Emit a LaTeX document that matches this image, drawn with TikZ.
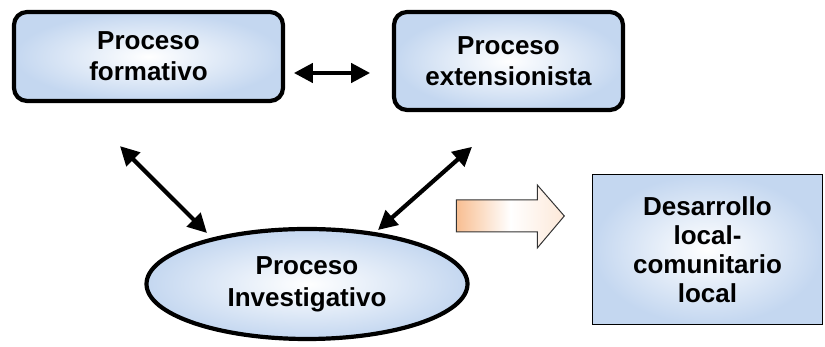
\documentclass[tikz,border=0pt]{standalone}
\usepackage{fontspec}
\setmainfont{Liberation Sans}
\usetikzlibrary{calc,shapes.geometric,arrows.meta}
\definecolor{boxblue}{RGB}{196,215,240}
\definecolor{peach}{RGB}{248,190,145}

\begin{document}
\begin{tikzpicture}[x=1pt, y=1pt,
      block/.style={rectangle, rounded corners=13pt, draw, line width=4.2pt, shading=radial, inner color=white, outer color=boxblue, align=center, font=\fontsize{26}{31}\selectfont\bfseries},
      oval/.style={ellipse, draw, line width=4.2pt, shading=radial, inner color=white, outer color=boxblue, align=center, font=\fontsize{26}{32}\selectfont\bfseries},
      goal/.style={rectangle, draw, line width=1.4pt, shading=radial, inner color=white, outer color=boxblue, align=center, font=\fontsize{26}{29}\selectfont\bfseries},
      dbl/.style={{Triangle[length=19pt,width=19pt]}-{Triangle[length=19pt,width=19pt]}, line width=4.2pt},
      flowarrow/.style={draw=black!80, line width=1pt, left color=peach, right color=peach!35, middle color=white},
      node distance=360pt]
      \useasboundingbox (0,0) rectangle (825,347);

      \node[block, minimum width=269pt, minimum height=89pt] (form) at (148.5,290.5) {Proceso\\formativo};
      \node[block, right of=form, yshift=-4.5pt, minimum width=229pt, minimum height=98pt] (ext) {Proceso\\extensionista};

      \node[oval, minimum width=321pt, minimum height=110pt, inner sep=0pt] (inv) at (307,63) {Proceso\\Investigativo};

      \node[goal, minimum width=229.5pt, minimum height=149.5pt] (des) at (707.5,97.5) {Desarrollo\\local-\\comunitario\\local};

      % relaciones entre procesos
      \draw[dbl] ($(form.east)+(8.75,-16.5)$) -- ($(ext.west)+(-21.75,-12)$);
      \draw[dbl] ($(form.south)+(-28.5,-43)$) -- ($(inv.center)+(-100,51)$);
      \draw[dbl] ($(ext.south)+(-36.5,-34.75)$) -- ($(inv.center)+(71,54)$);

      % flecha hacia el desarrollo
      \path[flowarrow] ($(des.west)+(-135.75,49.5)$) -- ++(81,0) -- ++(0,15) -- ++(27,-31) -- ++(-27,-32) -- ++(0,16) -- ++(-81,0) -- cycle;

    \end{tikzpicture}
\end{document}
